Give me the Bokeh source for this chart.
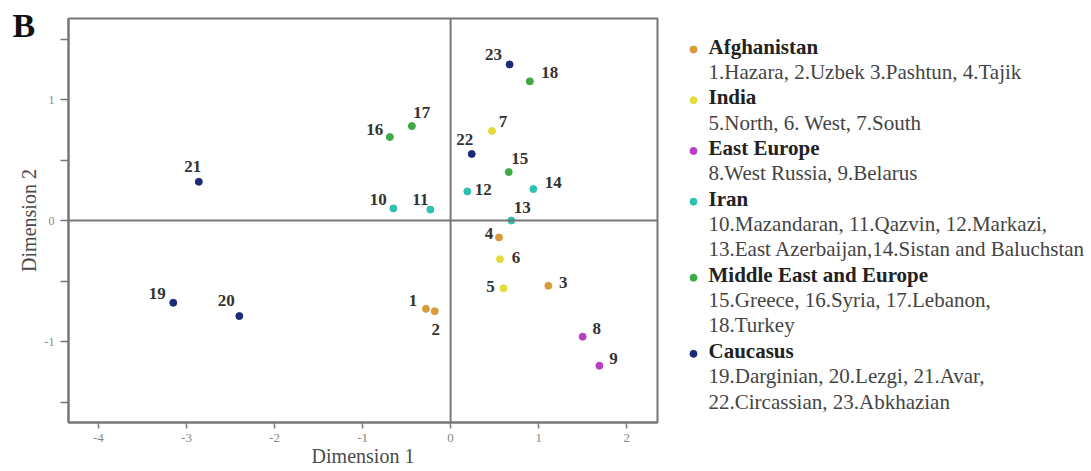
from bokeh.plotting import figure
from bokeh.models import Range1d, FixedTicker, Span, Label, ColumnDataSource
from bokeh.layouts import row
from bokeh.embed import file_html
from bokeh.resources import INLINE
from bokeh.core.properties import value

# ---------------- data ----------------
ids = [str(i) for i in range(1, 24)]
dim1 = [-0.28, -0.18, 1.11, 0.55, 0.60, 0.56, 0.47, 1.50, 1.69, -0.65, -0.23, 0.19,
        0.69, 0.94, 0.66, -0.69, -0.44, 0.90, -3.15, -2.40, -2.86, 0.24, 0.67]
dim2 = [-0.73, -0.75, -0.54, -0.14, -0.56, -0.32, 0.74, -0.96, -1.20, 0.10, 0.09, 0.24,
        0.00, 0.26, 0.40, 0.69, 0.78, 1.15, -0.68, -0.79, 0.32, 0.55, 1.29]
group_of_point = [0] * 4 + [1] * 3 + [2] * 2 + [3] * 5 + [4] * 4 + [5] * 5

group_names = ["Afghanistan", "India", "East Europe", "Iran",
               "Middle East and Europe", "Caucasus"]
group_lines = [
    ["1.Hazara, 2.Uzbek 3.Pashtun, 4.Tajik"],
    ["5.North, 6. West, 7.South"],
    ["8.West Russia, 9.Belarus"],
    ["10.Mazandaran, 11.Qazvin, 12.Markazi,",
     "13.East Azerbaijan,14.Sistan and Baluchstan"],
    ["15.Greece, 16.Syria, 17.Lebanon,", "18.Turkey"],
    ["19.Darginian, 20.Lezgi, 21.Avar,", "22.Circassian, 23.Abkhazian"],
]
x_ticks = [-4, -3, -2, -1, 0, 1, 2]
y_ticks = [-1, 0, 1]
y_minor_ticks = [-1.5, -0.5, 0.5, 1.5]

# ---------------- styles ----------------
group_colors = ["#D99A3A", "#E2DC3A", "#B63FC4", "#2EC0B2", "#3DAA45", "#1C2B78"]
# label offsets (screen px, relative to the point; y positive = down)
label_dx = [-13, 1, 15, -10, -13, 16, 11, 14, 14, -15, -10, 16, 11, 20, 11, -15, 10, 20, -16, -13, -6, -7, -16]
label_dy = [-8, 18, -3, -4, -2, -2, -9, -8, -7, -9, -10, -2, -13, -7, -14, -8, -14, -9, -9, -16, -15, -14, -10]
SERIF = value("Liberation Serif")
GRAY = "#777777"
H = 471
BT, BB = 18, 49          # top / bottom borders -> frame from 18 to 422
FT, FB = BT, H - BB
PW = 682                 # plot figure width
BR = 25                  # right border -> frame right at 657
FR = PW - BR

src = ColumnDataSource(dict(
    x=dim1, y=dim2, label=ids,
    color=[group_colors[g] for g in group_of_point],
    dx=label_dx, dy=label_dy,
))

p = figure(width=PW, height=H, x_range=Range1d(-4.34, 2.35),
           y_range=Range1d(-(FB - 220) / 121.0, (220 - FT) / 121.0),
           output_backend="svg", toolbar_location=None,
           min_border_left=68, min_border_right=BR, min_border_top=BT, min_border_bottom=BB)
p.grid.visible = False
p.outline_line_color = GRAY
p.outline_line_width = 2
p.background_fill_color = "white"
p.border_fill_color = "white"

p.xaxis.ticker = FixedTicker(ticks=x_ticks)
p.yaxis.ticker = FixedTicker(ticks=y_ticks, minor_ticks=y_minor_ticks)
p.xaxis.major_label_overrides = {t: str(t) for t in x_ticks}
p.yaxis.major_label_overrides = {t: str(t) for t in y_ticks}
for ax in (p.xaxis, p.yaxis):
    ax.axis_line_color = GRAY
    ax.axis_line_width = 2
    ax.major_tick_line_color = GRAY
    ax.major_tick_line_width = 1.5
    ax.minor_tick_line_color = GRAY
    ax.minor_tick_line_width = 1.5
    ax.major_tick_in = 0
    ax.minor_tick_in = 0
    ax.major_label_text_font = "Liberation Serif"
    ax.major_label_text_color = "#888888"
    ax.axis_label_text_font = "Liberation Serif"
    ax.axis_label_text_font_style = "normal"
    ax.axis_label_text_font_size = "20px"
    ax.axis_label_text_color = "#4a4a4a"
p.xaxis.minor_tick_line_color = None
p.xaxis.major_tick_out = 6
p.xaxis.major_label_text_font_size = "13px"
p.xaxis.major_label_standoff = 5
p.xaxis.axis_label = "Dimension 1"
p.xaxis.axis_label_standoff = 0
p.yaxis.major_tick_out = 8
p.yaxis.minor_tick_out = 8
p.yaxis.major_label_text_font_size = "12px"
p.yaxis.major_label_standoff = 6
p.yaxis.axis_label = "Dimension 2"
p.yaxis.axis_label_standoff = 2

p.add_layout(Span(location=0, dimension="height", line_color=GRAY, line_width=2))
p.add_layout(Span(location=0, dimension="width", line_color=GRAY, line_width=2))

p.scatter("x", "y", source=src, size=7, fill_color="color", line_color="color")
p.text("x", "y", text="label", source=src, x_offset="dx", y_offset="dy",
       text_align="center", text_baseline="middle", text_font=SERIF,
       text_font_style="bold", text_font_size="17px", text_color="#333333")

# panel label "B": lives in the right side panel (side panels are not clipped to the frame)
p.add_layout(Label(x=12 - FR, y=(FB - 25), x_units="screen", y_units="screen", text="B",
                   text_font="Liberation Serif", text_font_style="bold",
                   text_font_size="34px", text_color="#111111",
                   text_align="left", text_baseline="middle"), "right")

# ---------------- legend figure ----------------
LW = 1091 - PW
leg = figure(width=LW, height=H, x_range=Range1d(PW, 1091), y_range=Range1d(FB, FT),
             output_backend="svg", toolbar_location=None,
             min_border_left=0, min_border_right=0, min_border_top=BT, min_border_bottom=BB)
leg.axis.visible = False
leg.grid.visible = False
leg.outline_line_color = None

head_y, head_t, head_c, dot_y = [], [], [], []
det_y, det_t = [], []
k = 0
for gi, name in enumerate(group_names):
    base = 53 + 25.36 * k
    head_y.append(base - 7)
    head_t.append(name)
    head_c.append(group_colors[gi])
    dot_y.append(base - 4)
    k += 1
    for line in group_lines[gi]:
        det_y.append(53 + 25.36 * k - 7)
        det_t.append(line)
        k += 1

leg.scatter([693] * len(dot_y), dot_y, size=7, fill_color=head_c, line_color=head_c)
leg.text([708] * len(head_y), head_y, text=head_t, text_font=SERIF, text_font_style="bold",
         text_font_size="21px", text_color="#222222", text_baseline="middle")
leg.text([708] * len(det_y), det_y, text=det_t, text_font=SERIF,
         text_font_size="21px", text_color="#444444", text_baseline="middle")

layout = row(p, leg)
open("out.html", "w").write(file_html(layout, INLINE))
